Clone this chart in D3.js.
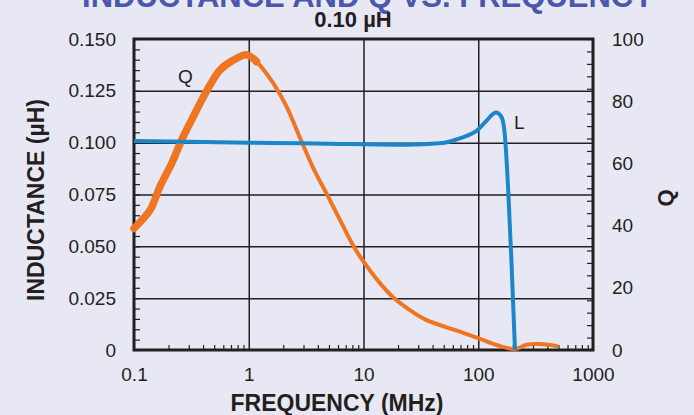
<!DOCTYPE html>
<html><head><meta charset="utf-8">
<script src="https://cdn.jsdelivr.net/npm/d3@7"></script>
<style>body{margin:0;background:#e8e8f4;} svg{display:block}</style>
</head><body><svg id="c" width="694" height="415"></svg>
<script>
// ---- data ----
const freqL = [0.1, 0.3, 1, 3, 6.2, 10, 23.8, 46, 69, 100, 118, 143, 160, 171, 183, 195, 209];
const indL  = [0.1008, 0.1004, 0.1000, 0.0997, 0.0994, 0.0992, 0.0990, 0.0997, 0.1021, 0.1064, 0.1106, 0.1145, 0.1122, 0.1029, 0.0756, 0.0418, 0];
const freqQ = [0.1, 0.138, 0.168, 0.213, 0.26, 0.318, 0.376, 0.46, 0.561, 0.733, 0.96, 1.17, 1.64, 2.14, 2.89, 3.65, 4.78, 6.2, 8.15, 10, 13.9, 18.2, 27.2, 35.6, 65, 100, 145, 209, 264, 345, 482];
const valQ  = [39.1, 45, 52.5, 60, 67.5, 74, 79.3, 85.2, 90, 93.2, 94.9, 92.7, 85.7, 78.2, 67.0, 58.5, 50.2, 42.0, 33.5, 28.4, 21.5, 16.9, 12.1, 9.6, 6.2, 3.8, 1.6, 0.3, 1.7, 1.9, 1.3];
const noisyQEnd = 1.17;
const xTicks = [0.1, 1, 10, 100, 1000];
const xTickLabels = ["0.1", "1", "10", "100", "1000"];
const lTicks = [0, 0.025, 0.05, 0.075, 0.1, 0.125, 0.15];
const lTickLabels = ["0", "0.025", "0.050", "0.075", "0.100", "0.125", "0.150"];
const qTicks = [0, 20, 40, 60, 80, 100];
const qTickLabels = ["0", "20", "40", "60", "80", "100"];
const titleText = "INDUCTANCE AND Q VS. FREQUENCY";
const subtitleText = "0.10 µH";

// ---- layout ----
const M = {l:134, r:593, t:39, b:350};
const FONT = "'Liberation Sans', Arial, Helvetica, sans-serif";
const INK = "#231f20";
const svg = d3.select("#c");
svg.append("rect").attr("width",694).attr("height",415).attr("fill","#e8e8f4");

const x  = d3.scaleLog().domain([0.1, 1000]).range([M.l, M.r]);
const yL = d3.scaleLinear().domain([0, 0.15]).range([M.b, M.t]);
const yQ = d3.scaleLinear().domain([0, 100]).range([M.b, M.t]);

// gridlines
const gx = svg.append("g").attr("transform",`translate(0,${M.b})`)
  .call(d3.axisBottom(x).tickValues([1,10,100]).tickSize(-(M.b-M.t)).tickFormat(""));
const gy = svg.append("g").attr("transform",`translate(${M.l},0)`)
  .call(d3.axisLeft(yL).tickValues([0.025,0.05,0.075,0.1,0.125]).tickSize(-(M.r-M.l)).tickFormat(""));
[gx,gy].forEach(g=>{ g.select(".domain").remove(); g.selectAll("line").attr("stroke",INK).attr("stroke-width",1.5); });

// minor ticks (inward)
const minorX = x.ticks().filter(v => !xTicks.some(t => Math.abs(t - v) < 1e-9));
const mx = svg.append("g").attr("transform",`translate(0,${M.b})`)
  .call(d3.axisBottom(x).tickValues(minorX).tickSize(-5).tickFormat(""));
const minorL = d3.range(0, 31).map(i => i * 0.005);
const ml = svg.append("g").attr("transform",`translate(${M.l},0)`)
  .call(d3.axisLeft(yL).tickValues(minorL).tickSize(-6).tickFormat(""));
const minorQ = d3.range(0, 26).map(i => i * 4);
const mq = svg.append("g").attr("transform",`translate(${M.r},0)`)
  .call(d3.axisRight(yQ).tickValues(minorQ).tickSize(-6).tickFormat(""));
[mx,ml,mq].forEach(g=>{ g.select(".domain").remove(); g.selectAll("line").attr("stroke",INK).attr("stroke-width",1.2); });

// tick labels
function styleLabels(g){
  g.select(".domain").remove();
  g.selectAll("line").remove();
  g.attr("font-family", FONT).attr("font-size", 19);
  g.selectAll("text").attr("fill", INK);
}
svg.append("g").attr("transform",`translate(0,${M.b})`)
  .call(d3.axisBottom(x).tickValues(xTicks).tickFormat((d,i)=>xTickLabels[i]).tickSize(0).tickPadding(18))
  .call(styleLabels);
svg.append("g").attr("transform",`translate(${M.l},0)`)
  .call(d3.axisLeft(yL).tickValues(lTicks).tickFormat((d,i)=>lTickLabels[i]).tickSize(0).tickPadding(18))
  .call(styleLabels);
svg.append("g").attr("transform",`translate(${M.r},0)`)
  .call(d3.axisRight(yQ).tickValues(qTicks).tickFormat((d,i)=>qTickLabels[i]).tickSize(0).tickPadding(19))
  .call(styleLabels);

// frame
svg.append("rect").attr("x",M.l).attr("y",M.t).attr("width",M.r-M.l).attr("height",M.b-M.t)
  .attr("fill","none").attr("stroke",INK).attr("stroke-width",3);

// curves
const lineL = d3.line().x((d,i)=>x(freqL[i])).y(d=>yL(d)).curve(d3.curveMonotoneX);
const lineQ = d3.line().x(d=>x(d[0])).y(d=>yQ(d[1])).curve(d3.curveCatmullRom.alpha(0.5));
const qPts = freqQ.map((f,i)=>[f, valQ[i]]);
svg.append("path").attr("d", lineQ(qPts)).attr("fill","none").attr("stroke","#ee7623")
  .attr("stroke-width",4).attr("stroke-linejoin","round").attr("stroke-linecap","round");
svg.append("path").attr("d", lineQ(qPts.filter(p=>p[0] <= noisyQEnd))).attr("fill","none").attr("stroke","#ee7623")
  .attr("stroke-width",7.5).attr("stroke-linejoin","round").attr("stroke-linecap","round");
svg.append("path").attr("d", lineL(indL)).attr("fill","none").attr("stroke","#1b87c9")
  .attr("stroke-width",4).attr("stroke-linejoin","round");

// curve labels
svg.append("text").attr("x",178).attr("y",83).attr("font-family",FONT).attr("font-size",19).attr("fill",INK).text("Q");
svg.append("text").attr("x",514).attr("y",129).attr("font-family",FONT).attr("font-size",19).attr("fill",INK).text("L");

// titles
svg.append("text").attr("x",368).attr("y",7).attr("text-anchor","middle").attr("font-family",FONT)
  .attr("font-weight","bold").attr("font-size",31).attr("fill","#4b56ad").text(titleText);
svg.append("text").attr("x",353).attr("y",27).attr("text-anchor","middle").attr("font-family",FONT)
  .attr("font-weight","bold").attr("font-size",22).attr("fill",INK).text(subtitleText);

// axis titles
svg.append("text").attr("x",337).attr("y",411).attr("text-anchor","middle").attr("font-family",FONT)
  .attr("font-weight","bold").attr("font-size",23).attr("fill",INK).text("FREQUENCY (MHz)");
svg.append("text").attr("transform","translate(44,200) rotate(-90)").attr("text-anchor","middle").attr("font-family",FONT)
  .attr("font-weight","bold").attr("font-size",23).attr("fill",INK).text("INDUCTANCE (µH)");
svg.append("text").attr("transform","translate(673,198) rotate(-90)").attr("text-anchor","middle").attr("font-family",FONT)
  .attr("font-weight","bold").attr("font-size",22).attr("fill",INK).text("Q");
</script></body></html>
